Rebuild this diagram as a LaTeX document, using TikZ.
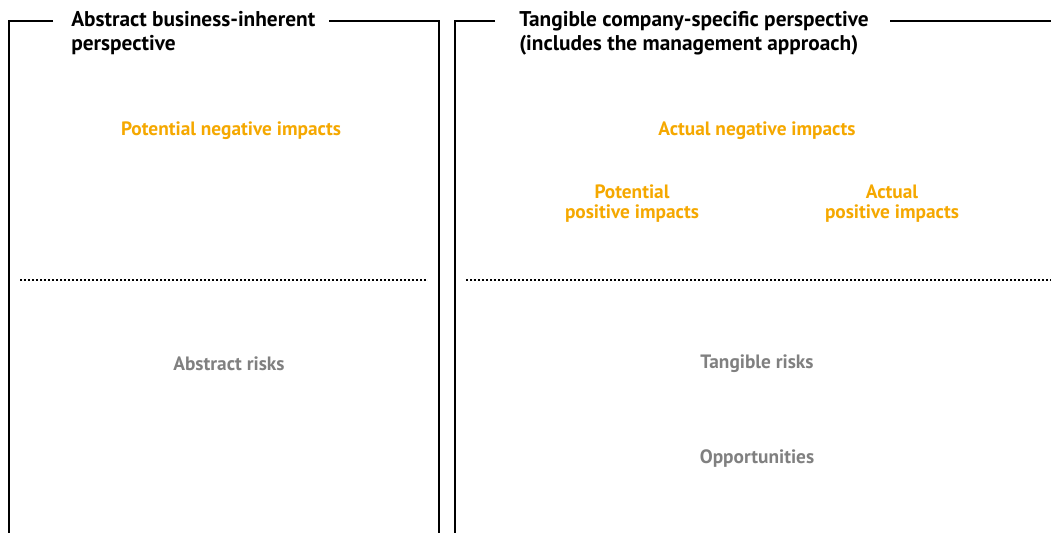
\documentclass[tikz,border=0pt]{standalone}
\usepackage{fontspec}
\setmainfont{PT Sans}
\usepackage{tikz}
\definecolor{impact}{HTML}{F5A800}
\definecolor{risk}{HTML}{808080}
\tikzset{frame/.style={line width=1.5pt},
  divider/.style={line width=1.5pt, dash pattern=on 1.5pt off 1.5pt},
  heading/.style={anchor=base west, align=left, font=\bfseries\fontsize{16}{18}\selectfont, inner sep=0pt},
  impactlabel/.style={text=impact, align=center, font=\bfseries\fontsize{14.5}{15}\selectfont},
  risklabel/.style={text=risk, align=center, font=\bfseries\fontsize{14.5}{15}\selectfont}}

\begin{document}
\begin{tikzpicture}[x=0.75pt,y=-0.75pt]
\useasboundingbox (0,0) rectangle (1051,533);

% headings (base anchor sits on the last line)
\node[heading] (abstract) at (71,50) {Abstract business-inherent\\perspective};
\node[heading] (tangible) at (519,50) {Tangible company-specific perspective\\(includes the management approach)};

% frames, open at the bottom
\draw[frame] (53,21) -- (9,21) -- (9,533);
\draw[frame] (329,21) -- (439,21) -- (439,533);
\draw[frame] (495,21) -- (455,21) -- (455,533);
\draw[frame] (890,21) -- (1051,21);

\draw[divider] (20,280) -- (428,280);
\draw[divider] (466,280) -- (1051,280);

% left column
\node[impactlabel] (potneg) at (231,131) {Potential negative impacts};
\node[risklabel] (absrisk) at (229,364) {Abstract risks};

% right column
\node[impactlabel] (actneg) at (757,131) {Actual negative impacts};
\node[impactlabel] (potpos) at (632,204) {Potential\\positive impacts};
\node[impactlabel] (actpos) at (892,204) {Actual\\positive impacts};
\node[risklabel] (tanrisk) at (757,364) {Tangible risks};
\node[risklabel] (opport) at (757,459) {Opportunities};
\end{tikzpicture}
\end{document}
